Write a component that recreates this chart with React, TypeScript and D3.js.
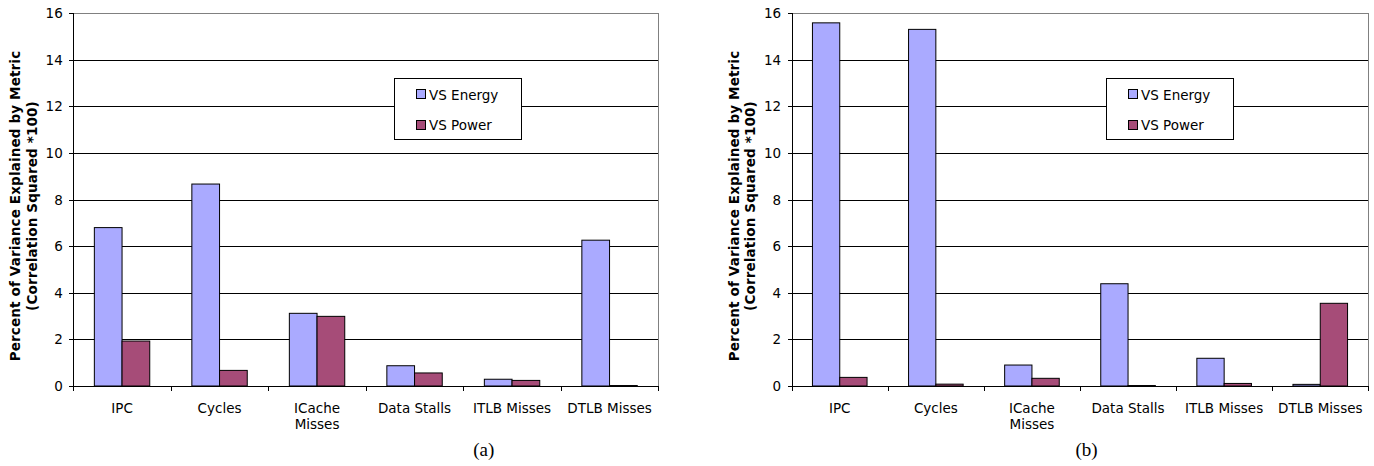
import React from "react";
import * as d3 from "d3";

const categories = ["IPC", "Cycles", "ICache Misses", "Data Stalls", "ITLB Misses", "DTLB Misses"];
const categoryLines = [["IPC"], ["Cycles"], ["ICache", "Misses"], ["Data Stalls"], ["ITLB Misses"], ["DTLB Misses"]];
const seriesNames = ["VS Energy", "VS Power"];
const seriesColors = ["#AAAAFF", "#A64C78"];
const yTicks = [0, 2, 4, 6, 8, 10, 12, 14, 16];

// panel (a)
const energyA = [6.8, 8.67, 3.12, 0.87, 0.29, 6.26];
const powerA = [1.93, 0.67, 2.99, 0.56, 0.24, 0.02];
// panel (b)
const energyB = [15.59, 15.31, 0.9, 4.39, 1.19, 0.07];
const powerB = [0.37, 0.08, 0.33, 0.02, 0.11, 3.55];

const FONT = "Verdana, 'DejaVu Sans', sans-serif";
const top = 13.3;
const bottom = 386;

type PanelProps = {
  left: number;
  right: number;
  energy: number[];
  power: number[];
  legendX: number;
  caption: string;
  captionX: number;
};

function Panel({ left, right, energy, power, legendX, caption, captionX }: PanelProps) {
  const x0 = d3.scaleBand<string>().domain(categories).range([left, right]).paddingInner(0).paddingOuter(0);
  const x1 = d3.scaleBand<string>().domain(seriesNames).range([0, x0.bandwidth()]).paddingInner(0).paddingOuter(0.76);
  const y = d3.scaleLinear().domain([0, 16]).range([bottom, top]);
  const values = [energy, power];
  const r = (v: number) => Math.round(v) + 0.5;
  const titleCenter = 206;
  const axisX = r(left);

  return (
    <g fontFamily={FONT}>
      {/* gridlines */}
      {yTicks.map((t) => (
        <line key={"g" + t} x1={axisX} x2={r(right)} y1={r(y(t))} y2={r(y(t))}
          stroke={t === 16 ? "#808080" : "#000"} strokeWidth={1} shapeRendering="crispEdges" />
      ))}
      {/* plot right border */}
      <line x1={r(right)} x2={r(right)} y1={r(top)} y2={r(bottom)} stroke="#808080" shapeRendering="crispEdges" />

      {/* bars */}
      {categories.map((c, i) =>
        seriesNames.map((s, j) => {
          const v = values[j][i];
          const bx = (x0(c) as number) + (x1(s) as number);
          return (
            <rect key={c + s} x={bx} y={y(v)} width={x1.bandwidth()} height={y(0) - y(v)}
              fill={seriesColors[j]} stroke="#000" strokeWidth={1} />
          );
        })
      )}

      {/* y axis */}
      <line x1={axisX} x2={axisX} y1={r(top)} y2={r(bottom)} stroke="#000" shapeRendering="crispEdges" />
      {yTicks.map((t) => (
        <g key={"t" + t}>
          <line x1={axisX - 5} x2={axisX} y1={r(y(t))} y2={r(y(t))} stroke="#000" shapeRendering="crispEdges" />
          <text x={left - 10.5} y={y(t)} dy="0.36em" textAnchor="end" fontSize={13.5} fill="#000">{t}</text>
        </g>
      ))}

      {/* x axis */}
      <line x1={axisX} x2={r(right)} y1={r(bottom)} y2={r(bottom)} stroke="#000" shapeRendering="crispEdges" />
      {[...categories.map((c) => x0(c) as number), right].map((bx, i) => (
        <line key={"xt" + i} x1={r(bx)} x2={r(bx)} y1={r(bottom)} y2={r(bottom) + 4} stroke="#000" shapeRendering="crispEdges" />
      ))}
      {categories.map((c, i) => (
        <text key={"xl" + c} x={(x0(c) as number) + x0.bandwidth() / 2} y={412.5} textAnchor="middle" fontSize={13.5} fill="#000">
          {categoryLines[i].map((ln, k) => (
            <tspan key={k} x={(x0(c) as number) + x0.bandwidth() / 2} dy={k === 0 ? 0 : 16.5}>{ln}</tspan>
          ))}
        </text>
      ))}

      {/* y axis title */}
      <text transform={`translate(${left - 53},${titleCenter}) rotate(-90)`} textAnchor="middle" fontSize={13.5} letterSpacing={0.15} fontWeight="bold" fill="#000">
        Percent of Variance Explained by Metric
      </text>
      <text transform={`translate(${left - 36.5},${titleCenter}) rotate(-90)`} textAnchor="middle" fontSize={13.5} letterSpacing={0.15} fontWeight="bold" fill="#000">
        (Correlation Squared *100)
      </text>

      {/* legend */}
      <rect x={r(legendX)} y={78.5} width={127} height={61} fill="#fff" stroke="#000" shapeRendering="crispEdges" />
      {seriesNames.map((s, j) => (
        <g key={"lg" + s}>
          <rect x={r(legendX + 22)} y={89.5 + j * 30.5} width={9} height={9} fill={seriesColors[j]} stroke="#000" shapeRendering="crispEdges" />
          <text x={legendX + 35} y={99.5 + j * 30.5} fontSize={13.5} fill="#000">{s}</text>
        </g>
      ))}

      {/* caption */}
      <text x={captionX} y={456} textAnchor="middle" fontFamily="'Liberation Serif', 'Times New Roman', serif" fontSize={19} fill="#000">
        {caption}
      </text>
    </g>
  );
}

export default function App() {
  return (
    <svg width={1374} height={466} viewBox="0 0 1374 466"
      style={{ position: "absolute", left: 0, top: 0, background: "#fff" }}>
      <rect width={1374} height={466} fill="#fff" />
      <Panel left={73.3} right={658.3} energy={energyA} power={powerA} legendX={394} caption="(a)" captionX={483.7} />
      <Panel left={791.7} right={1368.3} energy={energyB} power={powerB} legendX={1106} caption="(b)" captionX={1086.5} />
    </svg>
  );
}
